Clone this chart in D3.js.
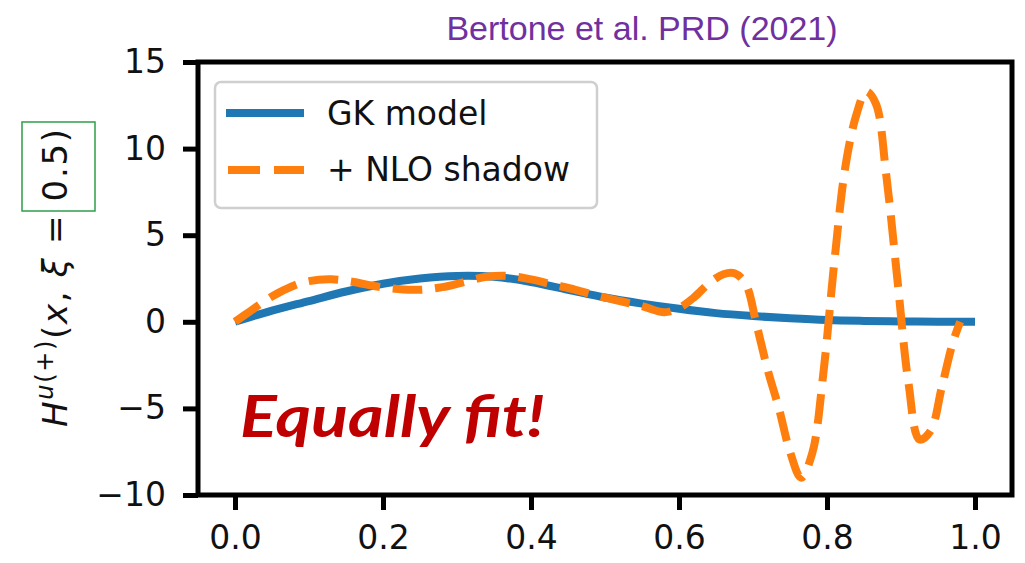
<!DOCTYPE html>
<html>
<head>
<meta charset="utf-8">
<script src="https://cdn.jsdelivr.net/npm/d3@7"></script>
<style>
  body { margin: 0; background: #fff; }
  text { font-family: "DejaVu Sans", sans-serif; }
</style>
</head>
<body>
<div id="chart"></div>
<script>
// GK model curve
const gkX = [0, 0.05, 0.1, 0.15, 0.2, 0.25, 0.3, 0.35, 0.4, 0.45, 0.5, 0.55, 0.6, 0.65, 0.7, 0.75, 0.8, 0.85, 0.9, 0.95, 1.0];
const gkY = [0, 0.65, 1.2, 1.75, 2.2, 2.5, 2.65, 2.6, 2.3, 1.85, 1.4, 1.05, 0.75, 0.5, 0.33, 0.2, 0.1, 0.05, 0.02, 0.01, 0];

// GK + NLO shadow curve
const nloX = [0, 0.02, 0.04, 0.06, 0.08, 0.1, 0.13, 0.16, 0.19, 0.22, 0.25, 0.28, 0.31, 0.34, 0.37, 0.4, 0.43, 0.46, 0.49, 0.52, 0.55, 0.58, 0.6, 0.62, 0.64, 0.66, 0.675, 0.69, 0.705, 0.72, 0.735, 0.75, 0.765, 0.78, 0.795, 0.81, 0.825, 0.84, 0.853, 0.866, 0.88, 0.895, 0.91, 0.925, 0.94, 0.955, 0.97, 0.98];
const nloY = [0, 0.6, 1.2, 1.7, 2.1, 2.35, 2.45, 2.3, 2.05, 1.9, 1.85, 2.0, 2.3, 2.6, 2.65, 2.45, 2.15, 1.85, 1.5, 1.2, 0.9, 0.55, 0.8, 1.4, 2.2, 2.75, 2.8, 2.2, -0.2, -2.8, -5.0, -7.5, -9.0, -7.6, -3.0, 3.5, 9.0, 12.0, 13.3, 12.6, 8.5, 2.5, -3.5, -6.8, -6.3, -3.8, -1.2, 0];

const xTicks = [0, 0.2, 0.4, 0.6, 0.8, 1.0];
const yTicks = [-10, -5, 0, 5, 10, 15];
const legendLabels = ['GK model', '+ NLO shadow'];

const width = 1025, height = 563;
const margin = { top: 62, right: 13, bottom: 68, left: 198 };

const svg = d3.select('#chart').append('svg')
              .attr('width', width)
              .attr('height', height);

svg.append('rect').attr('width', width).attr('height', height).attr('fill', '#fff');

const x = d3.scaleLinear().domain([-0.05, 1.05]).range([margin.left, width - margin.right]);
const y = d3.scaleLinear().domain([-10, 15]).range([height - margin.bottom, margin.top]);

const line = d3.line()
               .x(d => x(d[0]))
               .y(d => y(d[1]))
               .curve(d3.curveCatmullRom.alpha(0.5));

const gk = gkX.map((v, i) => [v, gkY[i]]),
      nlo = nloX.map((v, i) => [v, nloY[i]]);

svg.append('path')
   .datum(gk)
   .attr('d', line)
   .attr('fill', 'none')
   .attr('stroke', '#1f77b4')
   .attr('stroke-width', 8);

svg.append('path')
   .datum(nlo)
   .attr('d', line)
   .attr('fill', 'none')
   .attr('stroke', '#ff7f0e')
   .attr('stroke-width', 8)
   .attr('stroke-dasharray', '29.6,12.8');

// axes
const xAxis = svg.append('g')
                 .attr('transform', 'translate(0,' + (height - margin.bottom) + ')')
                 .call(d3.axisBottom(x).tickValues(xTicks).tickFormat(d3.format('.1f')).tickSize(15).tickPadding(16));

const yAxis = svg.append('g')
                 .attr('transform', 'translate(' + margin.left + ',0)')
                 .call(d3.axisLeft(y).tickValues(yTicks).tickSize(15).tickPadding(17));

[xAxis, yAxis].forEach(g => {
  g.select('.domain').remove();
  g.selectAll('.tick line').attr('stroke', '#000').attr('stroke-width', 5);
  g.selectAll('.tick text').attr('font-size', 33).attr('fill', '#111')
   .style('font-family', '"DejaVu Sans", sans-serif');
});

// frame
svg.append('rect')
   .attr('x', margin.left)
   .attr('y', margin.top)
   .attr('width', width - margin.left - margin.right)
   .attr('height', height - margin.top - margin.bottom)
   .attr('fill', 'none')
   .attr('stroke', '#000')
   .attr('stroke-width', 5);

// legend
const legend = svg.append('g');
legend.append('rect')
      .attr('x', 215).attr('y', 82)
      .attr('width', 382).attr('height', 126)
      .attr('rx', 6)
      .attr('fill', '#fff')
      .attr('stroke', '#cfcfcf')
      .attr('stroke-width', 2.5);

legend.append('line')
      .attr('x1', 226).attr('x2', 304).attr('y1', 113).attr('y2', 113)
      .attr('stroke', '#1f77b4').attr('stroke-width', 8);
legend.append('line')
      .attr('x1', 228).attr('x2', 304).attr('y1', 170).attr('y2', 170)
      .attr('stroke', '#ff7f0e').attr('stroke-width', 8)
      .attr('stroke-dasharray', '32,14');

legend.selectAll('text.lbl')
      .data(legendLabels)
      .enter()
      .append('text')
      .attr('class', 'lbl')
      .attr('x', 327)
      .attr('y', (d, i) => 125 + i * 56)
      .attr('font-size', 33)
      .attr('fill', '#111')
      .text(d => d);

// y label
const yl = svg.append('text')
              .attr('transform', 'translate(67,278) rotate(-90)')
              .attr('text-anchor', 'middle')
              .attr('font-size', 34)
              .attr('textLength', 298)
              .attr('lengthAdjust', 'spacing')
              .attr('fill', '#111');
yl.append('tspan').attr('font-style', 'italic').text('H');
yl.append('tspan').attr('font-style', 'italic').attr('font-size', 24).attr('dy', -14).text('u');
yl.append('tspan').attr('font-size', 24).text('(+)');
yl.append('tspan').attr('dy', 14).text('(');
yl.append('tspan').attr('font-style', 'italic').text('x');
yl.append('tspan').text(', ');
yl.append('tspan').attr('font-style', 'italic').text('ξ');
yl.append('tspan').text(' = 0.5)');

svg.append('rect')
   .attr('x', 22).attr('y', 122)
   .attr('width', 73).attr('height', 89)
   .attr('fill', 'none')
   .attr('stroke', '#2e9e4a')
   .attr('stroke-width', 1.5);

// title
svg.append('text')
   .attr('x', 642).attr('y', 40)
   .attr('text-anchor', 'middle')
   .attr('font-size', 34)
   .attr('fill', '#7030a0')
   .style('font-family', '"Liberation Sans", Arial, sans-serif')
   .text('Bertone et al. PRD (2021)');

// annotation
svg.append('text')
   .attr('x', 240).attr('y', 437)
   .attr('font-size', 58)
   .attr('font-weight', 'bold')
   .attr('font-style', 'italic')
   .attr('fill', '#c00000')
   .attr('textLength', 305)
   .attr('lengthAdjust', 'spacingAndGlyphs')
   .style('font-family', 'Lato, "Open Sans", sans-serif')
   .text('Equally fit!');
</script>
</body>
</html>
